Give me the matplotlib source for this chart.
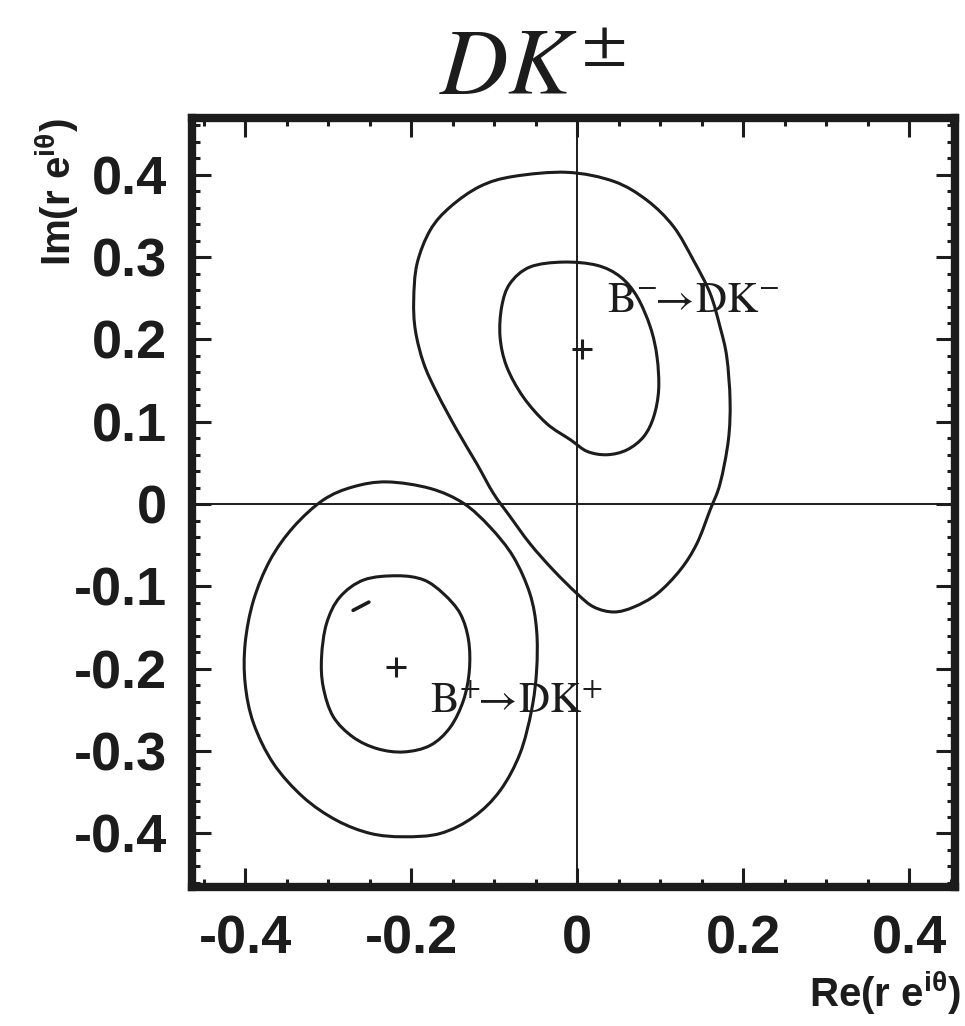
import matplotlib

matplotlib.use("Agg")

import matplotlib.pyplot as plt  # noqa: E402
from matplotlib.patches import PathPatch  # noqa: E402
from matplotlib.path import Path  # noqa: E402
from matplotlib.ticker import FuncFormatter, MultipleLocator  # noqa: E402

plt.rcParams["font.family"] = ["Liberation Sans", "DejaVu Sans"]
plt.rcParams["axes.unicode_minus"] = False
plt.rcParams["mathtext.fontset"] = "custom"
plt.rcParams["mathtext.rm"] = "Liberation Sans:bold"
plt.rcParams["mathtext.it"] = "Liberation Sans:bold"
plt.rcParams["mathtext.bf"] = "Liberation Sans:bold"

_INK = "#1c1c1c"

# contour outlines: B- -> DK- (upper) and B+ -> DK+ (lower)
upper_outer_x = [-0.012, 0.044, 0.084, 0.116, 0.140, 0.160, 0.172, 0.180, 0.184,
                 0.182, 0.172, 0.160, 0.144, 0.124, 0.096, 0.068, 0.044, 0.020,
                 0.000, -0.029, -0.057, -0.081, -0.101, -0.121, -0.145, -0.169,
                 -0.185, -0.195, -0.197, -0.193, -0.177, -0.153, -0.117, -0.077]
upper_outer_y = [0.403, 0.392, 0.369, 0.337, 0.296, 0.256, 0.215, 0.179, 0.126,
                 0.078, 0.025, -0.007, -0.048, -0.080, -0.109, -0.125, -0.131, -0.125,
                 -0.109, -0.080, -0.048, -0.015, 0.013, 0.049, 0.090, 0.135,
                 0.171, 0.211, 0.248, 0.292, 0.333, 0.361, 0.386, 0.398]

upper_inner_x = [-0.017, 0.024, 0.052, 0.072, 0.088, 0.096, 0.098, 0.092, 0.080,
                 0.060, 0.036, 0.012, -0.008, -0.037, -0.065, -0.085, -0.093,
                 -0.091, -0.081, -0.057]
upper_inner_y = [0.294, 0.290, 0.276, 0.252, 0.215, 0.179, 0.139, 0.106, 0.082,
                 0.066, 0.060, 0.064, 0.078, 0.098, 0.130, 0.167, 0.203,
                 0.240, 0.268, 0.288]

lower_outer_x = [-0.229, -0.177, -0.137, -0.105, -0.077, -0.057, -0.049, -0.049,
                 -0.055, -0.069, -0.093, -0.125, -0.165, -0.209, -0.249, -0.290,
                 -0.330, -0.366, -0.390, -0.400, -0.400, -0.390, -0.370, -0.342,
                 -0.306, -0.270]
lower_outer_y = [0.027, 0.019, 0.001, -0.028, -0.064, -0.109, -0.153, -0.202,
                 -0.250, -0.303, -0.348, -0.380, -0.400, -0.404, -0.400, -0.384,
                 -0.356, -0.315, -0.266, -0.218, -0.169, -0.117, -0.068, -0.028,
                 0.005, 0.021]

lower_inner_x = [-0.217, -0.185, -0.161, -0.141, -0.131, -0.130, -0.137, -0.153,
                 -0.177, -0.209, -0.241, -0.270, -0.294, -0.306, -0.308, -0.302,
                 -0.286, -0.257]
lower_inner_y = [-0.087, -0.092, -0.109, -0.133, -0.165, -0.202, -0.238, -0.271,
                 -0.293, -0.301, -0.297, -0.283, -0.258, -0.222, -0.186, -0.145,
                 -0.113, -0.092]

# stray contour fragment inside the lower inner curve
island_x = [-0.270, -0.251]
island_y = [-0.129, -0.119]

# best-fit points
best_x = [0.006, -0.218]
best_y = [0.188, -0.198]

labels = [r"$\mathrm{B}^{-}\!\!\rightarrow\!\mathrm{DK}^{-}$",
          r"$\mathrm{B}^{+}\!\!\rightarrow\!\mathrm{DK}^{+}$"]
label_x = [0.036, -0.177]
label_y = [0.233, -0.253]

x_ticks = [-0.4, -0.2, 0.0, 0.2, 0.4]
y_ticks = [-0.4, -0.3, -0.2, -0.1, 0.0, 0.1, 0.2, 0.3, 0.4]
x_lim = (-0.464, 0.455)
y_lim = (-0.465, 0.469)


def _fmt(v, _pos):
    return f"{round(v, 2) + 0.0:g}"


def _closed_curve(xs, ys):
    # smooth closed path through the read points (cubic segments)
    pts = list(zip(xs, ys))
    n = len(pts)
    verts = [pts[0]]
    codes = [Path.MOVETO]
    for i in range(n):
        p0, p1 = pts[i - 1], pts[i]
        p2, p3 = pts[(i + 1) % n], pts[(i + 2) % n]
        c1 = (p1[0] + (p2[0] - p0[0]) / 6, p1[1] + (p2[1] - p0[1]) / 6)
        c2 = (p2[0] - (p3[0] - p1[0]) / 6, p2[1] - (p3[1] - p1[1]) / 6)
        verts += [c1, c2, p2]
        codes += [Path.CURVE4] * 3
    return Path(verts, codes)


fig = plt.figure(figsize=(9.65, 10.26), dpi=100)
fig.patch.set_facecolor("white")
ax = fig.add_axes([0.199, 0.1355, 0.7907, 0.7495])

ax.axhline(0, color=_INK, lw=1.4, zorder=1)
ax.axvline(0, color=_INK, lw=1.4, zorder=1)

for xs, ys in [(upper_outer_x, upper_outer_y), (upper_inner_x, upper_inner_y),
               (lower_outer_x, lower_outer_y), (lower_inner_x, lower_inner_y)]:
    ax.add_patch(PathPatch(_closed_curve(xs, ys), fill=False, edgecolor=_INK,
                           lw=2.2, joinstyle="round", zorder=3))
ax.plot(island_x, island_y, color=_INK, lw=2.6, solid_capstyle="round", zorder=3)

ax.plot(best_x, best_y, ls="none", marker="+", ms=15, mew=2.2, color=_INK, zorder=4)

for txt, tx, ty in zip(labels, label_x, label_y):
    ax.text(tx, ty, txt, fontsize=31, color=_INK,
            math_fontfamily="stix", ha="left", va="baseline", zorder=5)

ax.set_xlim(*x_lim)
ax.set_ylim(*y_lim)
ax.set_xticks(x_ticks)
ax.set_yticks(y_ticks)
ax.xaxis.set_minor_locator(MultipleLocator(0.05))
ax.yaxis.set_minor_locator(MultipleLocator(0.02))
ax.xaxis.set_major_formatter(FuncFormatter(_fmt))
ax.yaxis.set_major_formatter(FuncFormatter(_fmt))
ax.tick_params(which="both", direction="in", top=True, right=True,
               width=2.2, color=_INK, labelcolor=_INK)
ax.tick_params(which="major", length=14, labelsize=39)
ax.tick_params(axis="x", which="major", pad=20)
ax.tick_params(axis="y", which="major", pad=18)
ax.tick_params(which="minor", length=6)
plt.setp(ax.get_xticklabels() + ax.get_yticklabels(), fontweight="bold")
for side in ax.spines.values():
    side.set_linewidth(6)
    side.set_color(_INK)

ax.set_xlabel(r"Re(r e$^{\mathrm{i}\theta}$)", fontsize=29, fontweight="bold",
              color=_INK, loc="right", va="center")
ax.xaxis.set_label_coords(1.008, -0.138)
ax.set_ylabel(r"Im(r e$^{\mathrm{i}\theta}$)", fontsize=29, fontweight="bold",
              color=_INK, loc="top")
ax.yaxis.set_label_coords(-0.145, 1.0)

fig.text(532 / 965, 1 - 95 / 1026, r"$DK^{\pm}$", fontsize=68,
         color=_INK, math_fontfamily="stix", ha="center", va="baseline")

fig.savefig("out.png", dpi=100, facecolor="white")
